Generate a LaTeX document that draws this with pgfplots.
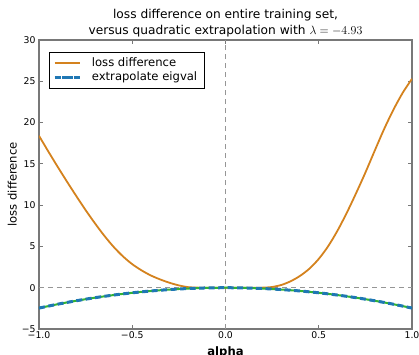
\documentclass[border=0pt]{standalone}
\usepackage{fontspec}
\setmainfont{DejaVu Sans}
\usepackage{pgfplots}
\pgfplotsset{compat=1.18}
\definecolor{lossorange}{RGB}{212,130,30}
\definecolor{exgreen}{RGB}{50,180,50}
\definecolor{exblue}{RGB}{31,119,180}
\definecolor{spine}{RGB}{120,120,120}
\definecolor{refgray}{RGB}{150,150,150}
\begin{document}
\begin{tikzpicture}
\path[use as bounding box] (-39pt,-25pt) rectangle (380pt,329pt);
\begin{axis}[
  at={(0,0)}, anchor=south west,
  scale only axis, width=373pt, height=289pt,
  xmin=-1, xmax=1, ymin=-5, ymax=30,
  xtick={-1,-0.5,0,0.5,1},
  xticklabels={−1.0,−0.5,0.0,0.5,1.0},
  ytick={-5,0,5,10,15,20,25,30},
  yticklabels={−5,0,5,10,15,20,25,30},
  tick align=inside, major tick length=4pt,
  every tick/.style={spine, line width=0.8pt},
  axis line style={spine, line width=1.4pt},
  tick label style={font=\fontsize{9.3}{11}\selectfont, text=black},
  xticklabel style={yshift=1pt},
  title={loss difference on entire training set,\\versus quadratic extrapolation with $\lambda=-4.93$},
  title style={align=center, font=\fontsize{12.2}{16}\selectfont, yshift=-7pt},
  xlabel={\bfseries alpha},
  ylabel={loss difference},
  label style={font=\fontsize{11.6}{13}\selectfont},
  xlabel style={yshift=-1pt},
  ylabel style={yshift=-2pt},
  legend style={at={(0.0268,0.9585)}, anchor=north west, draw=black, line width=0.8pt,
    font=\fontsize{11.6}{13}\selectfont, inner xsep=4pt, inner ysep=3.5pt,
    nodes={inner xsep=3.5pt, inner ysep=1.8pt, text height=8.5pt, text depth=2.5pt},
    row sep=0pt, column sep=7pt,
    cells={anchor=west}},
  legend cell align=left,
]
\addplot[refgray, line width=0.8pt, dash pattern=on 5pt off 4pt, forget plot] coordinates {(0,-5) (0,30)};
\addplot[refgray, line width=0.8pt, dash pattern=on 5pt off 4pt, forget plot] coordinates {(-1,0) (1,0)};
\addplot[lossorange, line width=1.8pt, smooth, tension=0.5,
  legend image code/.code={\draw[lossorange, line width=1.8pt] (0pt,0pt) -- (18pt,0pt);
    \path (0pt,0pt) -- (25pt,0pt);}] coordinates {
(-1.00,18.4) (-0.95,16.5) (-0.90,14.65) (-0.85,12.85) (-0.80,11.1) (-0.75,9.4)
(-0.70,7.8) (-0.65,6.3) (-0.60,4.95) (-0.55,3.8) (-0.50,2.85) (-0.45,2.1)
(-0.40,1.48) (-0.35,1.0) (-0.30,0.6) (-0.25,0.28) (-0.20,0.07) (-0.15,0.01)
(-0.10,0.0) (0.00,0.0) (0.10,0.0) (0.15,0.0) (0.20,0.01) (0.25,0.09)
(0.30,0.34) (0.35,0.79) (0.40,1.44) (0.45,2.31) (0.50,3.49) (0.55,5.01)
(0.60,6.89) (0.65,9.06) (0.70,11.44) (0.75,13.94) (0.80,16.59) (0.85,19.19)
(0.90,21.54) (0.95,23.6) (1.00,25.3)};
\addlegendentry{loss difference}
\addplot[exgreen, line width=2pt, smooth, forget plot] coordinates {
(-1.0,-2.465) (-0.9,-1.997) (-0.8,-1.578) (-0.7,-1.208) (-0.6,-0.887) (-0.5,-0.616)
(-0.4,-0.394) (-0.3,-0.222) (-0.2,-0.0986) (-0.1,-0.0247) (0.0,0.0)
(0.1,-0.0247) (0.2,-0.0986) (0.3,-0.222) (0.4,-0.394) (0.5,-0.616) (0.6,-0.887)
(0.7,-1.208) (0.8,-1.578) (0.9,-1.997) (1.0,-2.465)};
\addplot[exblue, line width=3pt, smooth, dash pattern=on 6pt off 3.5pt,
  legend image code/.code={
    \draw[exgreen, line width=2pt] (0pt,0pt) -- (18pt,0pt);
    \draw[exblue, line width=3pt, dash pattern=on 5pt off 2.5pt] (0pt,0pt) -- (18pt,0pt);
    \path (0pt,0pt) -- (25pt,0pt);
  }] coordinates {
(-1.0,-2.465) (-0.9,-1.997) (-0.8,-1.578) (-0.7,-1.208) (-0.6,-0.887) (-0.5,-0.616)
(-0.4,-0.394) (-0.3,-0.222) (-0.2,-0.0986) (-0.1,-0.0247) (0.0,0.0)
(0.1,-0.0247) (0.2,-0.0986) (0.3,-0.222) (0.4,-0.394) (0.5,-0.616) (0.6,-0.887)
(0.7,-1.208) (0.8,-1.578) (0.9,-1.997) (1.0,-2.465)};
\addlegendentry{extrapolate eigval}
\end{axis}
\end{tikzpicture}
\end{document}
